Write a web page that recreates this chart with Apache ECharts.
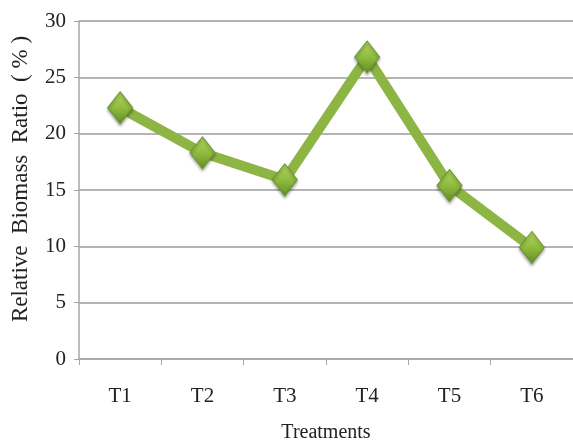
<!DOCTYPE html>
<html>
<head>
<meta charset="utf-8">
<script src="https://cdn.jsdelivr.net/npm/echarts@6/dist/echarts.min.js"></script>
<style>
  html, body { margin: 0; padding: 0; background: #ffffff; }
  #chart { width: 573px; height: 448px; }
</style>
</head>
<body>
<div id="chart"></div>
<script>
// Treatments on the x axis
const categories = ['T1', 'T2', 'T3', 'T4', 'T5', 'T6'];
// Relative biomass ratio (%) for each treatment
const ratioValues = [22.3, 18.3, 15.9, 26.8, 15.4, 9.9];
// Value axis range
const yMin = 0;
const yMax = 30;
const yStep = 5;

const serif = '"Liberation Serif", "DejaVu Serif", serif';
const chart = echarts.init(document.getElementById('chart'));

chart.setOption({
  backgroundColor: '#ffffff',
  animation: false,
  grid: { left: 79, right: -2, top: 21, bottom: 83, containLabel: false },
  xAxis: {
    type: 'category',
    data: categories,
    boundaryGap: true,
    name: 'Treatments',
    nameLocation: 'middle',
    nameGap: 64,
    nameTextStyle: { fontFamily: serif, fontSize: 20, color: '#222' },
    axisLine: { lineStyle: { color: '#a6a6a6', width: 1.5 } },
    axisTick: { show: true, length: 6, lineStyle: { color: '#a6a6a6' } },
    axisLabel: { fontFamily: serif, fontSize: 21, color: '#222', margin: 27 }
  },
  yAxis: {
    type: 'value',
    min: yMin,
    max: yMax,
    interval: yStep,
    name: 'Relative  Biomass  Ratio  ( % )',
    nameLocation: 'middle',
    nameGap: 47,
    nameRotate: 90,
    nameTextStyle: { fontFamily: serif, fontSize: 23, color: '#222', padding: [0, 0, 0, 22] },
    axisLine: { show: true, lineStyle: { color: '#a6a6a6', width: 1.5 } },
    axisTick: { show: true, length: 5, lineStyle: { color: '#a6a6a6' } },
    axisLabel: { fontFamily: serif, fontSize: 21, color: '#222', margin: 13 },
    splitLine: { show: true, lineStyle: { color: '#b4b4b4', width: 1.8 } }
  },
  series: [{
    type: 'line',
    data: ratioValues,
    lineStyle: { color: '#8db544', width: 10 },
    symbol: 'diamond',
    symbolSize: [25, 32],
    itemStyle: {
      color: new echarts.graphic.LinearGradient(0, 0, 0, 1, [
        { offset: 0, color: '#b2d862' },
        { offset: 0.5, color: '#8fbc3e' },
        { offset: 1, color: '#648c24' }
      ]),
      borderColor: '#6d9630',
      borderWidth: 1,
      shadowColor: 'rgba(0,0,0,0.35)',
      shadowBlur: 3,
      shadowOffsetY: 2
    },
    z: 3
  }]
});
</script>
</body>
</html>
